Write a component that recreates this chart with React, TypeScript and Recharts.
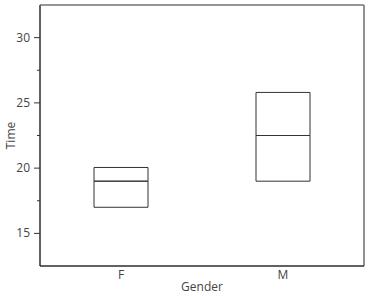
import { ComposedChart, Bar, XAxis, YAxis, Label, ReferenceArea, ReferenceLine } from 'recharts';

// Box summaries per gender
const genders = ['F', 'M'];
const lowerQuartile = [17.0, 19.0];
const medians = [19.0, 22.5];
const upperQuartile = [20.05, 25.8];

const yDomain = [12.5, 32.5];
const yTicks = [15, 17.5, 20, 22.5, 25, 27.5, 30];
const majorTicks = [15, 20, 25, 30];

const chartData = genders.map((g, i) => ({
  gender: g,
  base: lowerQuartile[i],
  lowerHalf: medians[i] - lowerQuartile[i],
  upperHalf: upperQuartile[i] - medians[i],
}));

const FONT = '"Open Sans", sans-serif';
const AXIS_X = 40;

const YTick = ({ y, payload }: any) => {
  const major = majorTicks.includes(payload.value);
  return (
    <g>
      <line x1={AXIS_X - (major ? 6 : 3)} x2={AXIS_X} y1={y} y2={y} stroke="#333" strokeWidth={1} />
      {major && (
        <text x={AXIS_X - 10} y={y} dy={4} textAnchor="end" fontSize={12} fill="#444" fontFamily={FONT}>
          {payload.value}
        </text>
      )}
    </g>
  );
};

const TimeLabel = ({ viewBox }: any) => {
  const cy = viewBox.y + viewBox.height / 2;
  return (
    <text
      x={10}
      y={cy}
      transform={`rotate(-90, 10, ${cy})`}
      textAnchor="middle"
      dominantBaseline="central"
      fontSize={12}
      fill="#444"
      fontFamily={FONT}
    >
      Time
    </text>
  );
};

export default function App() {
  return (
    <div style={{ position: 'absolute', left: 0, top: 0, background: '#fff' }}>
      <ComposedChart
        width={375}
        height={296}
        data={chartData}
        margin={{ top: 5, right: 11, bottom: 0, left: 0 }}
        barSize={54}
      >
        <XAxis
          dataKey="gender"
          axisLine={{ stroke: '#333' }}
          tickLine={false}
          tickSize={3}
          tick={{ fontSize: 12, fill: '#444', fontFamily: FONT }}
          tickMargin={1}
          height={30}
        >
          <Label value="Gender" position="insideBottom" offset={5} fontSize={12} fill="#444" fontFamily={FONT} />
        </XAxis>
        <YAxis
          domain={yDomain}
          allowDataOverflow
          ticks={yTicks}
          interval={0}
          tick={<YTick />}
          tickLine={false}
          axisLine={{ stroke: '#333' }}
          width={40}
        >
          <Label content={<TimeLabel />} />
        </YAxis>
        <ReferenceArea y1={yDomain[0]} y2={yDomain[1]} fill="none" stroke="#222" strokeWidth={1} />
        <ReferenceLine y={yDomain[1]} stroke="#999" strokeWidth={1.5} />
        <Bar dataKey="base" stackId="box" fill="transparent" isAnimationActive={false} />
        <Bar dataKey="lowerHalf" stackId="box" fill="none" stroke="#333" strokeWidth={1} isAnimationActive={false} />
        <Bar dataKey="upperHalf" stackId="box" fill="none" stroke="#333" strokeWidth={1} isAnimationActive={false} />
      </ComposedChart>
    </div>
  );
}
